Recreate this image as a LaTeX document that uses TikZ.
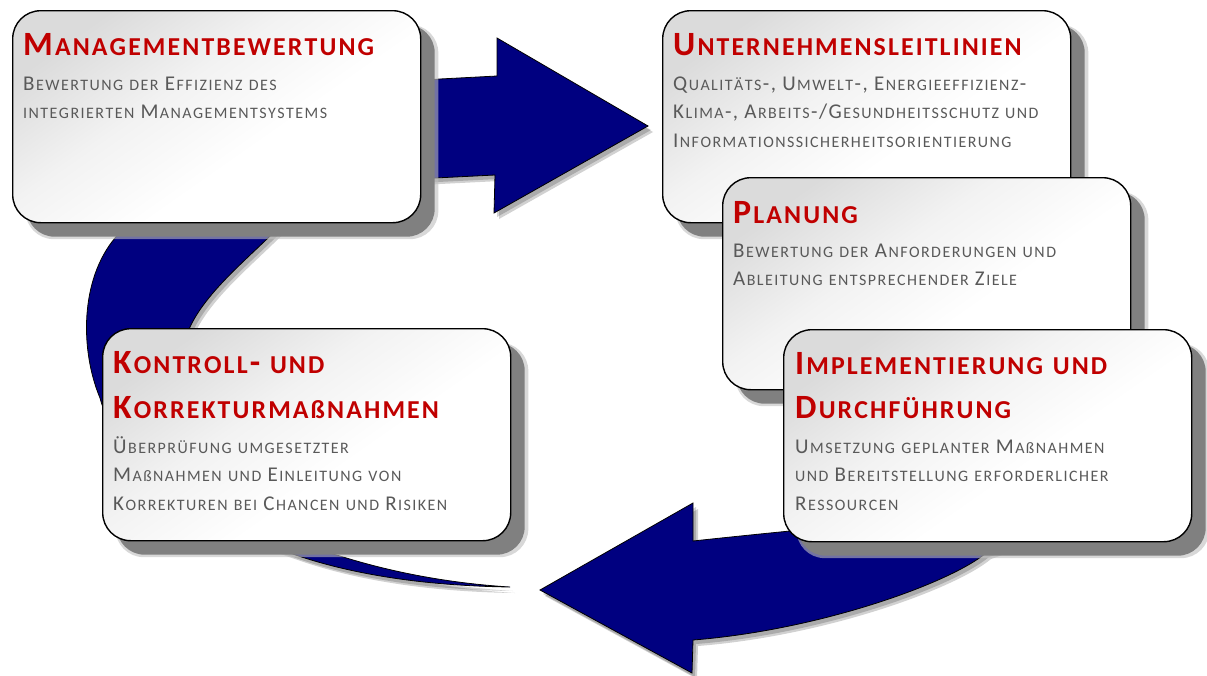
\documentclass[tikz,border=0pt]{standalone}
\usepackage{fontspec}
\setmainfont{Carlito}
\usetikzlibrary{shadows}
\definecolor{navy}{HTML}{000080}
\definecolor{titlered}{HTML}{C00000}
\definecolor{bodygray}{HTML}{595959}
\definecolor{shadowgray}{HTML}{808080}

\def\fsckern{0em}
\ExplSyntaxOn
\seq_new:N \l__fsc_seq
\bool_new:N \l__fsc_first_bool
\fp_new:N \l__fsc_ratio_fp
\fp_set:Nn \l__fsc_ratio_fp { 0.76 }
\cs_new_protected:Npn \__fsc_small:n #1
 {
  \group_begin:
  \fontsize { \fp_eval:n { \l__fsc_ratio_fp * \use:c { f@size } } } { 0 }
  \selectfont #1
  \group_end:
 }
\cs_new_protected:Npn \__fsc_char:N #1
 {
  \int_compare:nNnTF { `#1 } = { "DF }
   { \__fsc_small:n {#1} }
   {
    \int_compare:nNnTF { \char_value_uccode:n { `#1 } } = { 0 }
     { #1 }
     {
      \int_compare:nNnTF { \char_value_uccode:n { `#1 } } = { `#1 }
       { #1 }
       { \__fsc_small:n { \tex_char:D \char_value_uccode:n { `#1 } \scan_stop: } }
     }
   }
  \tex_kern:D \fsckern \scan_stop:
 }
\cs_new_protected:Npn \fsc #1
 {
  \seq_set_split:Nnn \l__fsc_seq { ~ } {#1}
  \bool_set_true:N \l__fsc_first_bool
  \seq_map_inline:Nn \l__fsc_seq
   {
    \bool_if:NF \l__fsc_first_bool { \c_space_tl }
    \bool_set_false:N \l__fsc_first_bool
    \tl_map_inline:nn {##1} { \__fsc_char:N ####1 }
   }
 }
\ExplSyntaxOff

\newcommand\lns[2]{\vtop{\baselineskip=#1\lineskiplimit=-100pt\lineskip=0pt\halign{##\hfil\cr#2\crcr}}}

\pgfdeclareverticalshading{cardshade}{100bp}{color(0bp)=(white); color(25bp)=(white); color(42bp)=(white); color(58bp)=(black!5); color(75bp)=(black!14); color(100bp)=(black!14)}

\def\bigarrowpath{(510,587) .. controls (440,586) and (360,578) .. (290,553)
  .. controls (190,520) and (115,455) .. (100,398)
  .. controls (80,350) and (80,280) .. (115,238)
  .. controls (167,175) and (300,88) .. (440,79)
  -- (497,76) -- (497,38) -- (648,126) -- (494,213) -- (495,175) -- (435,178)
  .. controls (360,182) and (300,205) .. (268,238)
  .. controls (240,265) and (205,295) .. (190,327)
  .. controls (178,360) and (180,440) .. (240,500)
  .. controls (280,535) and (310,548) .. (340,556)
  .. controls (400,575) and (460,584) .. (510,587) -- cycle}

\def\smallarrowpath{(540,590) -- (693,503) -- (693,541)
  .. controls (730,537) and (760,534) .. (790,531)
  -- (1000,470) -- (1080,520) -- (986,553)
  .. controls (950,583) and (820,630) .. (693,640)
  -- (692,673) -- cycle}

\begin{document}
\begin{tikzpicture}[x=1pt,y=-1pt,
  card/.style={draw=black, line width=1.4pt, rounded corners=28pt,
    minimum width=408pt, minimum height=212pt, inner sep=0pt, anchor=north west,
    general shadow={shadow xshift=15pt, shadow yshift=-15pt, shadow scale=1.012,
      fill=black!25, draw=none, opacity=0.6},
    general shadow={shadow xshift=14pt, shadow yshift=-14pt,
      fill=shadowgray, draw=none},
    shading=cardshade, shading angle=35},
  ttl/.style={anchor=base west, inner sep=0pt, text=titlered,
    font=\fontsize{34}{40}\bfseries\def\fsckern{0.062em}},
  bdy/.style={anchor=base west, inner sep=0pt, text=bodygray,
    font=\fontsize{21}{24}\selectfont\def\fsckern{0.07em}},
  arrowfill/.style={fill=navy, draw=black, line width=0.8pt, line join=miter},
  arrowshade/.style={fill=black, draw=none, opacity=0.18}
]
\useasboundingbox (0,0) rectangle (1207,675);
\fill[white] (0,0) rectangle (1207,675);

% arrow shadows
\fill[arrowshade, shift={(3,4)}] \bigarrowpath;
\fill[arrowshade, shift={(5,6)}] \bigarrowpath;
\fill[arrowshade, shift={(3,4)}] \smallarrowpath;
\fill[arrowshade, shift={(5,6)}] \smallarrowpath;
% arrows
\filldraw[arrowfill] \bigarrowpath;
\filldraw[arrowfill] \smallarrowpath;

% Managementbewertung
\node[card] (m) at (12,10) {};
\node[ttl] (mt) at ([shift={(11,45)}]m.north west) {\fsc{Managementbewertung}};
\node[bdy] (mb) at ([shift={(11,80)}]m.north west)
  {\lns{28pt}{\fsc{Bewertung der Effizienz des}\cr \fsc{integrierten Managementsystems}}};

% Kontroll- und Korrekturmassnahmen
\node[card] (k) at (102,328) {};
\node[ttl] (kt) at ([shift={(11,45)}]k.north west)
  {\lns{45pt}{\fsc{Kontroll- und}\cr \fsc{Korrekturmaßnahmen}}};
\node[bdy] (kb) at ([shift={(11,125)}]k.north west)
  {\lns{28.5pt}{\fsc{Überprüfung umgesetzter}\cr \fsc{Maßnahmen und Einleitung von}\cr \fsc{Korrekturen bei Chancen und Risiken}}};

% Unternehmensleitlinien
\node[card] (u) at (662,10) {};
\node[ttl] (ut) at ([shift={(11,45)}]u.north west) {\fsc{Unternehmensleitlinien}};
\node[bdy] (ub) at ([shift={(11,80)}]u.north west)
  {\lns{28.5pt}{\fsc{Qualitäts-, Umwelt-, Energieeffizienz-}\cr \fsc{Klima-, Arbeits-/Gesundheitsschutz und}\cr \fsc{Informationssicherheitsorientierung}}};

% Planung
\node[card] (p) at (722,177) {};
\node[ttl] (pt) at ([shift={(11,46)}]p.north west) {\fsc{Planung}};
\node[bdy] (pb) at ([shift={(11,80)}]p.north west)
  {\lns{28pt}{\fsc{Bewertung der Anforderungen und}\cr \fsc{Ableitung entsprechender Ziele}}};

% Implementierung und Durchfuehrung
\node[card] (i) at (783,329) {};
\node[ttl] (it) at ([shift={(12,45)}]i.north west)
  {\lns{44pt}{\fsc{Implementierung und}\cr \fsc{Durchführung}}};
\node[bdy] (ib) at ([shift={(12,124)}]i.north west)
  {\lns{28.5pt}{\fsc{Umsetzung geplanter Maßnahmen}\cr \fsc{und Bereitstellung erforderlicher}\cr \fsc{Ressourcen}}};
\end{tikzpicture}
\end{document}
